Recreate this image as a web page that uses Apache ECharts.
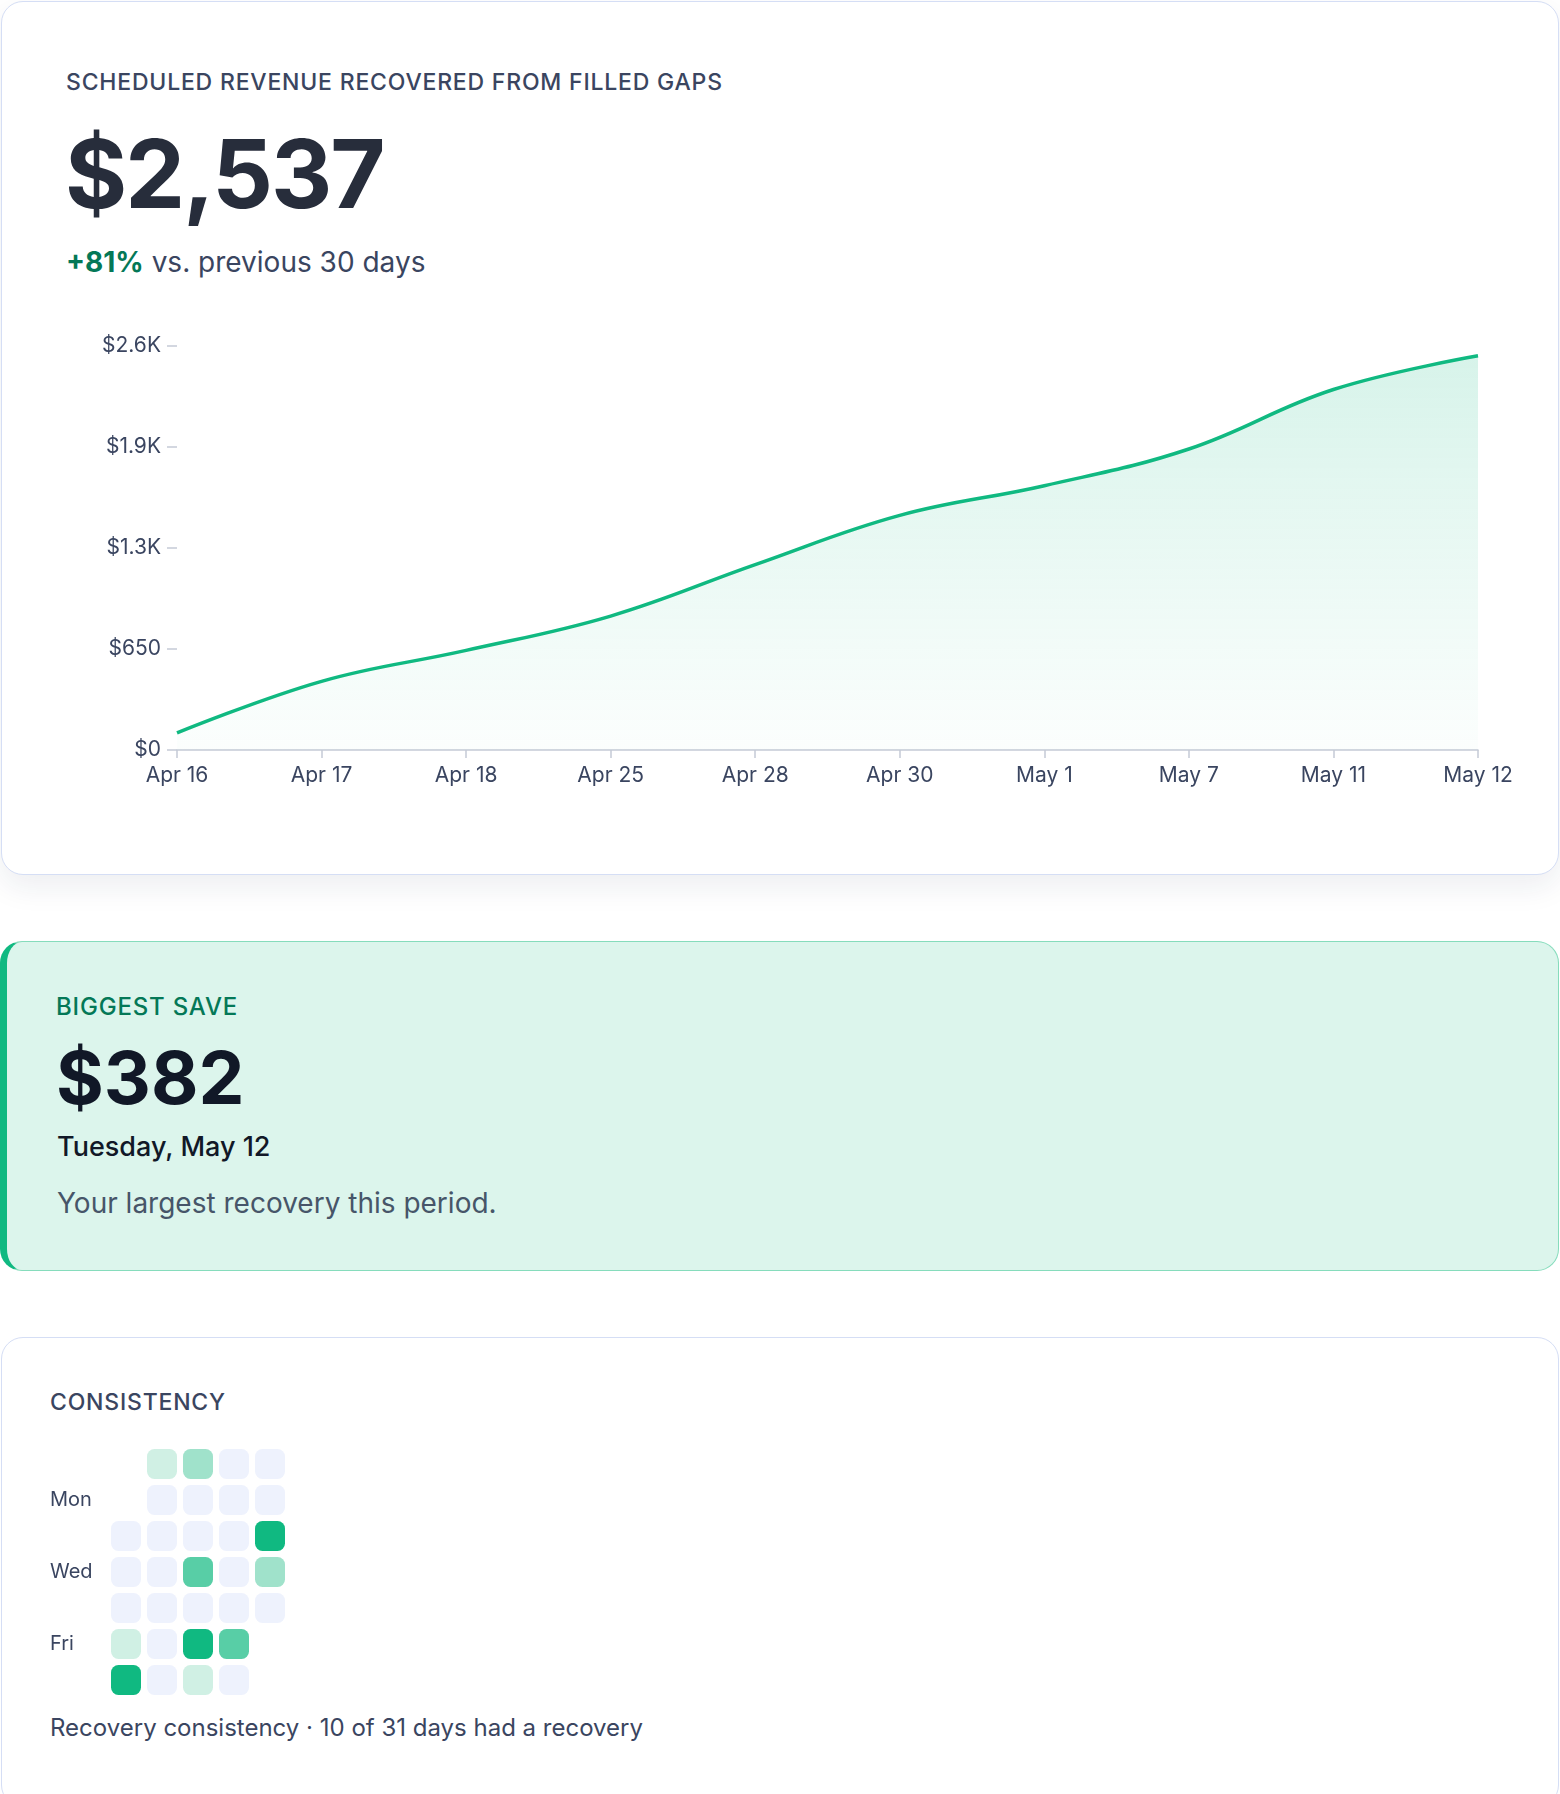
<!DOCTYPE html>
<html><head><meta charset="utf-8">
<script src="https://cdn.jsdelivr.net/npm/echarts@6/dist/echarts.min.js"></script>
<style>
body{margin:0;width:1560px;height:1794px;background:#fff;font-family:Inter,"Noto Sans",sans-serif;position:relative;overflow:hidden}
.card{position:absolute;box-sizing:border-box}
#c1{left:1px;top:1px;width:1558px;height:874px;border:1.5px solid #d5def5;border-radius:22px;box-shadow:0 12px 30px rgba(30,40,80,0.08);background:#fff}
#c2{left:0;top:941px;width:1559px;height:330px;border:1.5px solid #86dcbc;border-left:7px solid #10b981;border-radius:22px;background:#dcf5ec}
#c3{left:1px;top:1337px;width:1558px;height:470px;border:1.5px solid #d5def5;border-radius:22px;background:#fff}
.t{position:absolute;white-space:nowrap}
#chart{position:absolute;left:0;top:0;width:1560px;height:1794px}
</style></head><body>
<div class="card" id="c1"></div>
<div class="card" id="c2"></div>
<div class="card" id="c3"></div>
<div class="t" style="left:66px;top:68px;font-size:23px;letter-spacing:0.8px;color:#3a4560;font-weight:500">SCHEDULED REVENUE RECOVERED FROM FILLED GAPS</div>
<div class="t" style="left:65px;top:116px;font-size:95px;font-weight:700;color:#272d3b;letter-spacing:-2px">$2,537</div>
<div class="t" style="left:66px;top:245px;font-size:28px;color:#3a4560"><span style="color:#047857;font-weight:700">+81%</span> vs. previous 30 days</div>
<div class="t" style="left:56px;top:992px;font-size:24px;letter-spacing:0.8px;color:#047857;font-weight:500">BIGGEST SAVE</div>
<div class="t" style="left:56px;top:1033px;font-size:73px;font-weight:700;color:#111827">$382</div>
<div class="t" style="left:57px;top:1130px;font-size:27px;font-weight:500;color:#111827">Tuesday, May 12</div>
<div class="t" style="left:57px;top:1186px;font-size:28px;color:#475569">Your largest recovery this period.</div>
<div class="t" style="left:50px;top:1388px;font-size:23px;letter-spacing:0.8px;color:#3a4560;font-weight:500">CONSISTENCY</div>
<div class="t" style="left:50px;top:1713px;font-size:24px;color:#3a4560">Recovery consistency · 10 of 31 days had a recovery</div>
<div id="chart"></div>
<script>
const categories=['Apr 16','Apr 17','Apr 18','Apr 25','Apr 28','Apr 30','May 1','May 7','May 11','May 12'];
const cumulativeRevenue=[110,442,641,862,1193,1510,1701,1937,2320,2537];
const yTickLabels={0:'$0',650:'$650',1300:'$1.3K',1950:'$1.9K',2600:'$2.6K'};
const weekCols=['W1','W2','W3','W4','W5'];
const dayRows=['','Mon','','Wed','','Fri',''];
// level per [row][col], null = no day
const levels=[
 [null,1,2,0,0],
 [null,0,0,0,0],
 [0,0,0,0,4],
 [0,0,3,0,2],
 [0,0,0,0,0],
 [1,0,4,3,null],
 [4,0,1,0,null]
];
const levelColors=['#eef2fd','#d0f0e4','#a0e2cb','#58cea6','#10b981'];
const cells=[];
levels.forEach((r,ri)=>r.forEach((v,ci)=>{if(v!==null)cells.push({value:[ci,ri,v],itemStyle:{color:levelColors[v],opacity:1}});}));
const ch=echarts.init(document.getElementById('chart'));
const lab={color:'#3a4560',fontSize:21,fontFamily:'Inter'};
ch.setOption({
 animation:false,
 grid:[{left:177,top:346,width:1301,height:404},{left:108,top:1446,width:180,height:252}],
 xAxis:[{type:'category',gridIndex:0,data:categories,boundaryGap:false,
   axisLine:{lineStyle:{color:'#c5cad6',width:1.5}},axisTick:{length:8,lineStyle:{color:'#c5cad6',width:1.5}},
   axisLabel:Object.assign({margin:15},lab)},
  {type:'category',gridIndex:1,data:weekCols,show:false}],
 yAxis:[{type:'value',gridIndex:0,min:0,max:2600,interval:650,splitLine:{show:false},
   axisLine:{show:true,lineStyle:{opacity:0}},axisTick:{show:true,length:10,lineStyle:{color:'#c5cad6',width:1.5}},
   axisLabel:Object.assign({margin:16,formatter:v=>yTickLabels[v]},lab)},
  {type:'category',gridIndex:1,data:dayRows,inverse:true,axisLine:{show:false},axisTick:{show:false},
   axisLabel:{color:'#3a4560',fontSize:20,fontFamily:'Inter',align:'left',margin:58,interval:0,padding:[8,0,0,0]}}],
 series:[{type:'line',xAxisIndex:0,yAxisIndex:0,data:cumulativeRevenue,smooth:0.4,symbol:'none',
   lineStyle:{color:'#10b981',width:3.5},
   areaStyle:{color:new echarts.graphic.LinearGradient(0,0,0,1,[{offset:0,color:'rgba(16,185,129,0.24)'},{offset:1,color:'rgba(16,185,129,0.02)'}])}},
  {type:'scatter',xAxisIndex:1,yAxisIndex:1,symbol:'roundRect',symbolSize:30,data:cells}]
});
</script></body></html>
